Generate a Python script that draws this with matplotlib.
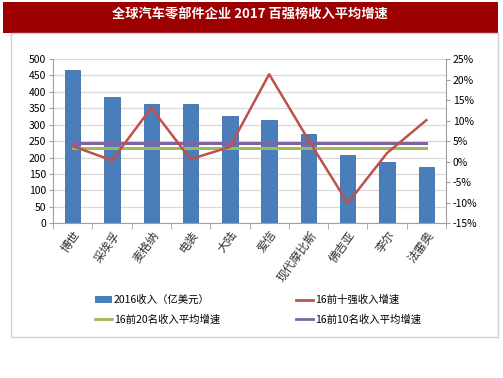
"""全球汽车零部件企业 2017 百强榜收入平均增速 - bar + line combo chart."""

import numpy as np
import matplotlib.pyplot as plt
from matplotlib.patches import Rectangle
from matplotlib.lines import Line2D

plt.rcParams['font.family'] = ['Noto Sans CJK SC', 'DejaVu Sans']
plt.rcParams['axes.unicode_minus'] = False

companies = ["博世", "采埃孚", "麦格纳", "电装", "大陆", "爱信", "现代摩比斯", "佛吉亚", "李尔", "法雷奥"]
revenue_2016 = [466, 384, 364, 362, 327, 313, 272, 208, 187, 172]
growth_top10 = [3.8, 0.3, 13.1, 0.6, 3.6, 21.3, 5.3, -10.1, 2.1, 10.1]
avg_top20 = [3.4] * 10
avg_top10 = [4.5] * 10

W, H = 503, 378


def main():
    fig = plt.figure(figsize=(W / 100, H / 100), dpi=100)
    fig.patch.set_facecolor("white")

    # title bar + outer frame
    fig.add_artist(Rectangle((3 / W, 1 - 33 / H), 495 / W, 31 / H,
                             transform=fig.transFigure, facecolor="#9c0000",
                             edgecolor="none"))
    fig.text(250 / W, 1 - 15 / H, "全球汽车零部件企业 2017 百强榜收入平均增速",
             color="white", fontsize=9.5, fontweight="bold",
             ha="center", va="center")
    fig.add_artist(Rectangle((11 / W, 1 - 337 / H), 487 / W, 304 / H,
                             transform=fig.transFigure, facecolor="none",
                             edgecolor="#d0d0d0", linewidth=1))

    ax = fig.add_axes([53 / W, 1 - 223.3 / H, 393 / W, 164.3 / H])
    x = np.arange(len(companies))
    ax.bar(x, revenue_2016, width=0.39, color="#4a7ebb",
           edgecolor="#3d6ea8", linewidth=0.6, zorder=3)
    ax.set_xlim(-0.5, len(companies) - 0.5)
    ax.set_ylim(0, 500)
    ax.set_yticks(np.arange(0, 501, 50))
    ax.yaxis.grid(True, color="#d9d9d9", linewidth=0.9, zorder=0)
    ax.set_axisbelow(True)
    for s in ["top", "right"]:
        ax.spines[s].set_visible(False)
    ax.spines["left"].set_color("#a0a0a0")
    ax.spines["bottom"].set_color("#a0a0a0")
    ax.tick_params(axis="y", labelsize=7.5, length=3, color="#a0a0a0", pad=2)
    ax.set_xticks(x)
    ax.set_xticklabels(companies, rotation=54, ha="right",
                       rotation_mode="anchor", fontsize=8.5, color="#333333")
    ax.tick_params(axis="x", length=0, pad=4)
    ax.set_xticks(np.arange(-0.5, len(companies), 1), minor=True)
    ax.tick_params(axis="x", which="minor", length=4, color="#a0a0a0")

    ax2 = ax.twinx()
    ax2.set_ylim(-15, 25)
    ax2.set_yticks(np.arange(-15, 26, 5))
    ax2.set_yticklabels([f"{v}%" for v in range(-15, 26, 5)])
    ax2.tick_params(axis="y", labelsize=7.5, length=3, color="#a0a0a0", pad=2)
    for s in ["top", "left", "bottom"]:
        ax2.spines[s].set_visible(False)
    ax2.spines["right"].set_color("#a0a0a0")
    ax2.plot(x, avg_top10, color="#8064a2", linewidth=2.2, zorder=4)
    ax2.plot(x, avg_top20, color="#9bbb59", linewidth=2.2, zorder=4)
    ax2.plot(x, growth_top10, color="#c0504d", linewidth=1.8, zorder=5)

    handles = [
        Rectangle((0, 0), 1, 1, facecolor="#4a7ebb", edgecolor="none"),
        Line2D([], [], color="#9bbb59", linewidth=2),
        Line2D([], [], color="#c0504d", linewidth=2),
        Line2D([], [], color="#8064a2", linewidth=2),
    ]
    labels = ["2016收入（亿美元）", "16前20名收入平均增速",
              "16前十强收入增速", "16前10名收入平均增速"]
    fig.legend(handles, labels, ncol=2, loc="center",
               bbox_to_anchor=(258 / W, 1 - 310 / H), frameon=False,
               fontsize=7.5, handlelength=1.6, handletextpad=0.2,
               columnspacing=7.3, labelspacing=0.9)

    plt.savefig("out.png", dpi=100)


if __name__ == "__main__":
    main()
